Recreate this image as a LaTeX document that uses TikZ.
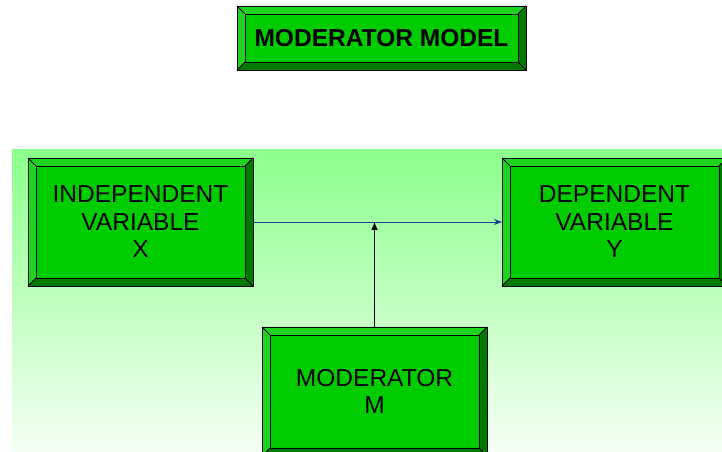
\documentclass[tikz,border=0pt]{standalone}
\usepackage{fontspec}
\setmainfont{Liberation Sans}
\usetikzlibrary{arrows.meta}
\definecolor{face}{HTML}{00CC00}
\definecolor{bevlight}{HTML}{1FD41F}
\definecolor{bevdark}{HTML}{007A00}
\definecolor{bgtop}{HTML}{8CFF8C}
\definecolor{bgbot}{HTML}{F8FFF8}
\definecolor{linkblue}{HTML}{1E3C96}
\tikzset{
  vbox/.style={draw=black, line width=0.6pt, fill=face, inner sep=0pt, outer sep=0pt,
    align=center, font=\fontsize{18.4}{20.6}\selectfont},
  titlebox/.style={vbox, font=\fontsize{18.4}{20.6}\selectfont\bfseries},
  edgeline/.style={draw=black, line width=0.6pt},
}
\newcommand\bevelize[1]{%
  \fill[bevlight] (#1.north west) -- (#1.north east) -- ([shift={(-6pt,-6pt)}]#1.north east) -- ([shift={(6pt,-6pt)}]#1.north west) -- cycle;
  \fill[bevlight] (#1.north west) -- (#1.south west) -- ([shift={(6pt,6pt)}]#1.south west) -- ([shift={(6pt,-6pt)}]#1.north west) -- cycle;
  \fill[bevdark] (#1.south west) -- (#1.south east) -- ([shift={(-6pt,6pt)}]#1.south east) -- ([shift={(6pt,6pt)}]#1.south west) -- cycle;
  \fill[bevdark] (#1.north east) -- (#1.south east) -- ([shift={(-6pt,6pt)}]#1.south east) -- ([shift={(-6pt,-6pt)}]#1.north east) -- cycle;
  \draw[edgeline] ([shift={(6pt,-6pt)}]#1.north west) rectangle ([shift={(-6pt,6pt)}]#1.south east);
  \draw[edgeline] (#1.north west) -- ([shift={(6pt,-6pt)}]#1.north west)
                  (#1.north east) -- ([shift={(-6pt,-6pt)}]#1.north east)
                  (#1.south west) -- ([shift={(6pt,6pt)}]#1.south west)
                  (#1.south east) -- ([shift={(-6pt,6pt)}]#1.south east);
  \draw[edgeline] (#1.north west) rectangle (#1.south east);
}
\begin{document}
\begin{tikzpicture}[x=0.75pt,y=-0.75pt]
\useasboundingbox (0,0) rectangle (722,452);
\clip (0,0) rectangle (722,452);
\fill[white] (0,0) rectangle (722,452);
\shade[top color=bgtop, bottom color=bgbot] (12,150) rectangle (730,460);

\node[titlebox, minimum width=216.75pt, minimum height=48pt] (title) at (381.5,38) {MODERATOR MODEL};
\bevelize{title}

\node[vbox, minimum width=168.75pt, minimum height=96pt] (iv) at (140.5,222) {INDEPENDENT\\VARIABLE\\X};
\bevelize{iv}

\node[vbox, minimum width=168.75pt, minimum height=96pt] (dv) at (614.5,222) {DEPENDENT\\VARIABLE\\Y};
\bevelize{dv}

\node[vbox, minimum width=168.75pt, minimum height=96.75pt] (mod) at (374.5,391.5) {MODERATOR\\M};
\bevelize{mod}

\draw[draw=linkblue, line width=0.6pt, -{Stealth[length=6pt,width=4.5pt]}] (iv.east) -- (dv.west);
\coordinate (j) at (mod.north |- iv.east);
\draw[black, line width=0.6pt, -{Latex[length=6pt,width=5pt]}] (mod.north) -- (j);
\end{tikzpicture}
\end{document}
